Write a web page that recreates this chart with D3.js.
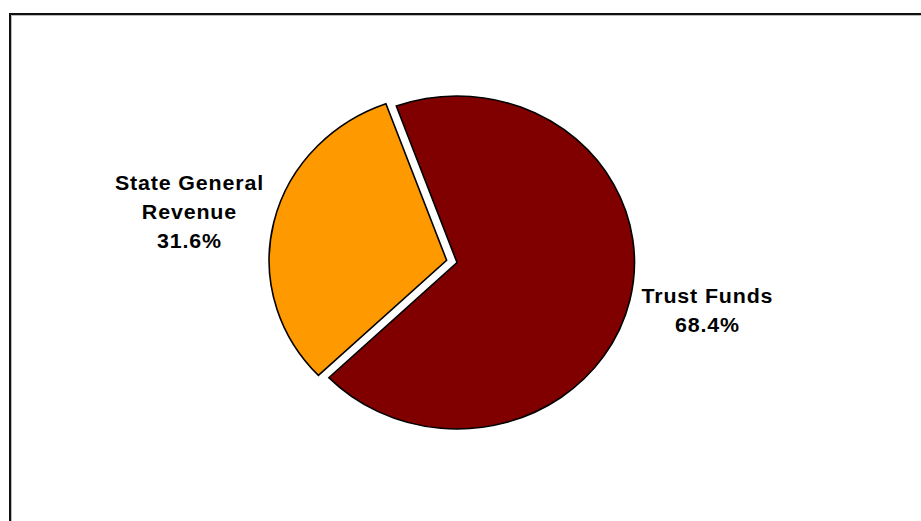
<!DOCTYPE html>
<html>
<head>
<meta charset="utf-8">
<script src="https://cdn.jsdelivr.net/npm/d3@7"></script>
<style>
  html, body { margin: 0; padding: 0; background: #fff; }
  svg { display: block; }
</style>
</head>
<body>
<script>
// Funding sources, in percent of total
const categories = ["Trust Funds", "State General Revenue"];
const values = [68.4, 31.6];
const labelLines = [["Trust Funds"], ["State General", "Revenue"]];
const colors = ["#800000", "#FF9900"];
const exploded = [false, true];

const W = 921, H = 521;
const cx = 457, cy = 262.5;   // pie centre
const ry = 166.5;              // vertical radius
const stretchX = 1.066;        // pie is drawn slightly wider than tall
const explodeDist = 10;
// label anchor (centre of first line) relative to the pie centre
const labelOffset = [[250, 40], [-268, -73]];
const lineGap = 29.5;

const svg = d3.select("body").append("svg")
  .attr("width", W).attr("height", H);

// outer frame
svg.append("rect")
  .attr("x", 10).attr("y", 14)
  .attr("width", W + 20).attr("height", H + 20)
  .attr("fill", "none").attr("stroke", "#111").attr("stroke-width", 2);
svg.append("rect")
  .attr("x", 11.5).attr("y", 15.5)
  .attr("width", W + 20).attr("height", H + 20)
  .attr("fill", "none").attr("stroke", "#bbb").attr("stroke-width", 1);

const deg = Math.PI / 180;
const pie = d3.pie().sort(null)
  .startAngle(-20 * deg).endAngle(340 * deg)
  .value(d => d);
const arcs = pie(values);

const arc = d3.arc().innerRadius(0).outerRadius(ry);

const g = svg.append("g")
  .attr("transform", `translate(${cx},${cy}) scale(${stretchX},1)`);

g.selectAll("path")
  .data(arcs)
  .join("path")
  .attr("d", arc)
  .attr("transform", (d, i) => {
    if (!exploded[i]) return null;
    const a = (d.startAngle + d.endAngle) / 2;
    return `translate(${Math.sin(a) * explodeDist},${-Math.cos(a) * explodeDist})`;
  })
  .attr("fill", (d, i) => colors[i])
  .attr("stroke", "#000")
  .attr("stroke-width", 1.6)
  .attr("stroke-linejoin", "miter")
  .attr("vector-effect", "non-scaling-stroke");

// labels: name lines followed by the percentage
const labels = svg.append("g")
  .attr("font-family", "Arial, 'Liberation Sans', sans-serif")
  .attr("font-weight", "bold")
  .attr("font-size", "20px")
  .attr("fill", "#000")
  .attr("text-anchor", "middle");

arcs.forEach((d, i) => {
  const lines = labelLines[i].concat([d3.format(".1f")(values[i]) + "%"]);
  const x = cx + labelOffset[i][0];
  const y = cy + labelOffset[i][1];
  const t = labels.append("text")
    .attr("transform", `translate(${x},${y}) scale(1.07,1)`)
    .attr("letter-spacing", "0.8px");
  lines.forEach((ln, k) => {
    t.append("tspan")
      .attr("x", 0.4)
      .attr("y", k * lineGap)
      .text(ln);
  });
});
</script>
</body>
</html>
